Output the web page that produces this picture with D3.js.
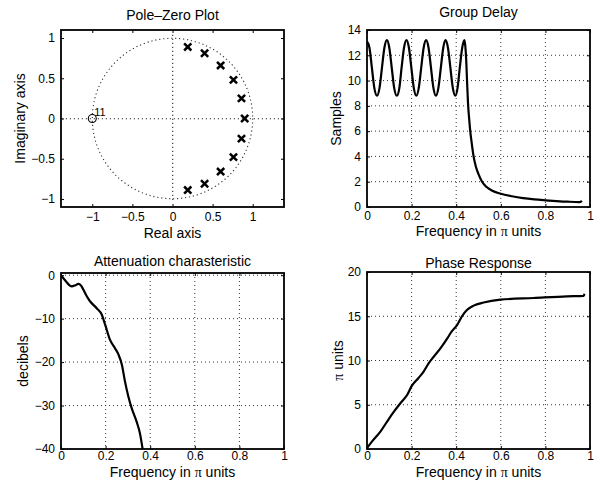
<!DOCTYPE html>
<html>
<head>
<meta charset="utf-8">
<script src="https://cdn.jsdelivr.net/npm/d3@7"></script>
<style>
  body { margin: 0; background: #fff; }
  svg text { font-family: "Liberation Sans", Arial, Helvetica, sans-serif; fill: #000; }
  .grid { stroke: #222; stroke-width: 0.9; stroke-dasharray: 1 3; fill: none; }
  .pzline { stroke: #333; stroke-width: 1.1; stroke-dasharray: 1.2 2.8; fill: none; }
  .curve { fill: none; stroke: #000; stroke-width: 2.2; stroke-linejoin: round; }
</style>
</head>
<body>
<svg id="fig" width="594" height="482"></svg>
<script>
// ---- pole-zero plot ----
const poleRe = [0.19, 0.40, 0.60, 0.76, 0.86, 0.90, 0.86, 0.76, 0.60, 0.40, 0.19];
const poleIm = [0.89, 0.81, 0.66, 0.48, 0.25, 0, -0.25, -0.48, -0.66, -0.81, -0.89];
const zeroRe = [-1];
const zeroIm = [0];
const zeroCount = ['11'];
const pzTicks = [-1, -0.5, 0, 0.5, 1];

// ---- group delay ----
const gdFreq = [0, 0.011, 0.022, 0.033, 0.045, 0.056, 0.067, 0.078, 0.0895, 0.1, 0.111, 0.122,
  0.134, 0.145, 0.155, 0.166, 0.177, 0.188, 0.199, 0.21, 0.221, 0.232, 0.243, 0.254, 0.265,
  0.276, 0.287, 0.298, 0.309, 0.32, 0.331, 0.342, 0.352, 0.363, 0.374, 0.385, 0.396, 0.406,
  0.416, 0.427, 0.437, 0.441, 0.445, 0.449, 0.453, 0.458, 0.463, 0.47, 0.478, 0.488, 0.5,
  0.516, 0.535, 0.56, 0.6, 0.65, 0.7, 0.75, 0.8, 0.85, 0.9, 0.95, 0.958, 0.963];
const gdSamples = [13.1, 12.6, 11.0, 9.4, 8.8, 9.4, 11.0, 12.6, 13.2, 12.6, 11.0, 9.4,
  8.8, 9.4, 11.0, 12.6, 13.2, 12.6, 11.0, 9.4, 8.8, 9.4, 11.0, 12.6, 13.2,
  12.6, 11.0, 9.4, 8.8, 9.4, 11.0, 12.6, 13.2, 12.6, 11.0, 9.4, 8.8, 9.4,
  11.0, 12.6, 13.2, 12.7, 11.6, 9.8, 8.2, 7.0, 6.0, 5.0, 4.0, 3.2, 2.6,
  2.0, 1.6, 1.3, 1.05, 0.85, 0.7, 0.6, 0.53, 0.47, 0.42, 0.39, 0.4, 0.5];
const gdTicksX = [0, 0.2, 0.4, 0.6, 0.8, 1];
const gdTicksY = [0, 2, 4, 6, 8, 10, 12, 14];

// ---- attenuation ----
const attFreq = [0, 0.02, 0.048, 0.065, 0.078, 0.09, 0.1, 0.115, 0.13, 0.16, 0.183, 0.198,
  0.22, 0.242, 0.258, 0.273, 0.287, 0.302, 0.317, 0.339, 0.354, 0.366];
const attDb = [0, -1.3, -2.6, -2.3, -2.0, -2.4, -3.3, -4.8, -6.0, -7.6, -9.1, -11.4,
  -14.9, -16.8, -18.3, -20.6, -24.5, -27.9, -30.6, -33.7, -36.4, -40];
const attTicksY = [-40, -30, -20, -10, 0];

// ---- phase ----
const phFreq = [0, 0.022, 0.06, 0.09, 0.12, 0.157, 0.18, 0.2, 0.23, 0.254, 0.277, 0.3,
  0.33, 0.36, 0.38, 0.404, 0.426, 0.448, 0.478, 0.523, 0.598, 0.747, 0.897, 0.972, 0.975];
const phPi = [0.1, 0.83, 1.96, 3.1, 4.2, 5.4, 6.1, 7.1, 8.0, 8.75, 9.7, 10.45,
  11.4, 12.5, 13.3, 14.0, 15.0, 15.7, 16.2, 16.55, 16.87, 17.06, 17.25, 17.3, 17.55];
const phTicksY = [0, 5, 10, 15, 20];

const svg = d3.select('#fig');
const fmt = d3.format('');
const serif = 'font-family:"Liberation Serif","DejaVu Serif",serif';

function makeAxes(cfg) {
  const x = d3.scaleLinear().domain(cfg.xDomain).range([cfg.left, cfg.right]);
  const y = d3.scaleLinear().domain(cfg.yDomain).range([cfg.bottom, cfg.top]);
  const g = svg.append('g');

  if (cfg.grid) {
    g.append('g').selectAll('line')
        .data(cfg.xTicks.filter((v) => x(v) > cfg.left + 1 && x(v) < cfg.right - 1))
      .join('line')
        .attr('class', 'grid')
        .attr('x1', (d) => x(d)).attr('x2', (d) => x(d))
        .attr('y1', cfg.top).attr('y2', cfg.bottom);
    g.append('g').selectAll('line')
        .data(cfg.yTicks.filter((v) => y(v) > cfg.top + 1 && y(v) < cfg.bottom - 1))
      .join('line')
        .attr('class', 'grid')
        .attr('x1', cfg.left).attr('x2', cfg.right)
        .attr('y1', (d) => y(d)).attr('y2', (d) => y(d));
  }

  const tidy = (sel) => {
    sel.select('.domain').remove();
    sel.attr('font-family', null).attr('font-size', 12);
    sel.selectAll('line').attr('stroke', '#000');
  };

  g.append('g')
      .attr('transform', `translate(0,${cfg.bottom})`)
      .call(d3.axisBottom(x).tickValues(cfg.xTicks).tickSize(-3).tickPadding(cfg.xPad).tickFormat(fmt))
      .call(tidy);
  g.append('g')
      .attr('transform', `translate(0,${cfg.top})`)
      .call(d3.axisTop(x).tickValues(cfg.xTicks).tickSize(-3).tickFormat(''))
      .call(tidy);
  g.append('g')
      .attr('transform', `translate(${cfg.left},0)`)
      .call(d3.axisLeft(y).tickValues(cfg.yTicks).tickSize(-3).tickPadding(6).tickFormat(fmt))
      .call(tidy);
  g.append('g')
      .attr('transform', `translate(${cfg.right},0)`)
      .call(d3.axisRight(y).tickValues(cfg.yTicks).tickSize(-3).tickFormat(''))
      .call(tidy);

  const clipId = `clip-${cfg.name}`;
  svg.append('clipPath').attr('id', clipId)
    .append('rect')
      .attr('x', cfg.left).attr('y', cfg.top)
      .attr('width', cfg.right - cfg.left).attr('height', cfg.bottom - cfg.top);
  const plot = g.append('g').attr('clip-path', `url(#${clipId})`);

  // title
  g.append('text')
      .attr('x', (cfg.left + cfg.right) / 2)
      .attr('y', cfg.titleY)
      .attr('text-anchor', 'middle')
      .attr('font-size', 14)
      .text(cfg.title);

  // x label
  const xl = g.append('text')
      .attr('x', (cfg.left + cfg.right) / 2)
      .attr('y', cfg.bottom + cfg.xLabelOffset)
      .attr('text-anchor', 'middle')
      .attr('font-size', 14);
  if (cfg.xLabel === 'freq') {
    xl.append('tspan').text('Frequency in ');
    xl.append('tspan').attr('style', serif).text('π');
    xl.append('tspan').text(' units');
  } else {
    xl.text(cfg.xLabel);
  }

  // y label
  const yl = g.append('text')
      .attr('transform', `translate(${cfg.left - cfg.yLabelOffset},${(cfg.top + cfg.bottom) / 2}) rotate(-90)`)
      .attr('text-anchor', 'middle')
      .attr('font-size', 14);
  if (cfg.yLabel === 'pi') {
    yl.append('tspan').attr('style', serif).text('π');
    yl.append('tspan').text(' units');
  } else {
    yl.text(cfg.yLabel);
  }

  g.append('rect')
      .attr('class', 'box')
      .attr('x', cfg.left).attr('y', cfg.top)
      .attr('width', cfg.right - cfg.left).attr('height', cfg.bottom - cfg.top)
      .attr('fill', 'none').attr('stroke', '#000').attr('stroke-width', 1.8);

  return { x, y, g, plot };
}

// ---------- Pole-Zero ----------
const pz = makeAxes({
  name: 'pz', left: 61, right: 284, top: 30, bottom: 207,
  xDomain: [-1.39, 1.39], yDomain: [-1.1, 1.1],
  xTicks: pzTicks, yTicks: pzTicks, grid: false, xPad: 5,
  title: 'Pole\u2013Zero Plot', titleY: 20,
  xLabel: 'Real axis', xLabelOffset: 31,
  yLabel: 'Imaginary axis', yLabelOffset: 36,
});

const guides = pz.g.insert('g', '.box');
guides.append('circle')
    .attr('class', 'pzline')
    .attr('cx', pz.x(0)).attr('cy', pz.y(0))
    .attr('r', pz.x(1) - pz.x(0));
// real and imaginary axis lines
guides.append('line')
    .attr('class', 'pzline')
    .attr('x1', pz.x(-1.38)).attr('x2', pz.x(1.38))
    .attr('y1', pz.y(0) + 0.2).attr('y2', pz.y(0) + 0.2);
guides.append('line')
    .attr('class', 'pzline')
    .attr('x1', pz.x(0) + 0.2).attr('x2', pz.x(0) + 0.2)
    .attr('y1', pz.y(1.04)).attr('y2', pz.y(-1.04));

const poles = poleRe.map((re, i) => ({ re, im: poleIm[i] }));
pz.plot.selectAll('.pole')
    .data(poles)
  .join('path')
    .attr('class', 'pole')
    .attr('transform', (d) => `translate(${pz.x(d.re)},${pz.y(d.im)})`)
    .attr('d', 'M-3.6,-3.6L3.6,3.6M-3.6,3.6L3.6,-3.6')
    .attr('stroke', '#000').attr('stroke-width', 2.5).attr('fill', 'none');

const zeros = zeroRe.map((re, i) => ({ re, im: zeroIm[i], n: zeroCount[i] }));
pz.plot.selectAll('.zero')
    .data(zeros)
  .join('circle')
    .attr('class', 'zero')
    .attr('cx', (d) => pz.x(d.re)).attr('cy', (d) => pz.y(d.im))
    .attr('r', 4)
    .attr('fill', 'none').attr('stroke', '#000').attr('stroke-width', 1.1);
pz.plot.selectAll('.zlabel')
    .data(zeros)
  .join('text')
    .attr('class', 'zlabel')
    .attr('x', (d) => pz.x(d.re) + 2).attr('y', (d) => pz.y(d.im) - 3)
    .attr('font-size', 11)
    .text((d) => d.n);

// ---------- Group Delay ----------
const gd = makeAxes({
  name: 'gd', left: 367, right: 590, top: 30, bottom: 207,
  xDomain: [0, 1], yDomain: [0, 14],
  xTicks: gdTicksX, yTicks: gdTicksY, grid: true, xPad: 4,
  title: 'Group Delay', titleY: 17,
  xLabel: 'freq', xLabelOffset: 29,
  yLabel: 'Samples', yLabelOffset: 26,
});
gd.plot.append('path')
    .datum(gdFreq.map((f, i) => [f, gdSamples[i]]))
    .attr('class', 'curve')
    .attr('d', d3.line().x((d) => gd.x(d[0])).y((d) => gd.y(d[1])).curve(d3.curveMonotoneX));

// ---------- Attenuation ----------
const at = makeAxes({
  name: 'at', left: 61, right: 284, top: 273, bottom: 449,
  xDomain: [0, 1], yDomain: [-40, 0.5],
  xTicks: gdTicksX, yTicks: attTicksY, grid: true, xPad: 2,
  title: 'Attenuation charasteristic', titleY: 266,
  xLabel: 'freq', xLabelOffset: 28,
  yLabel: 'decibels', yLabelOffset: 33,
});
at.plot.append('path')
    .datum(attFreq.map((f, i) => [f, attDb[i]]))
    .attr('class', 'curve')
    .attr('d', d3.line().x((d) => at.x(d[0])).y((d) => at.y(d[1])).curve(d3.curveMonotoneX));

// ---------- Phase ----------
const ph = makeAxes({
  name: 'ph', left: 367, right: 590, top: 272, bottom: 449,
  xDomain: [0, 1], yDomain: [0, 20],
  xTicks: gdTicksX, yTicks: phTicksY, grid: true, xPad: 2,
  title: 'Phase Response', titleY: 268,
  xLabel: 'freq', xLabelOffset: 28,
  yLabel: 'pi', yLabelOffset: 24,
});
ph.plot.append('path')
    .datum(phFreq.map((f, i) => [f, phPi[i]]))
    .attr('class', 'curve')
    .attr('d', d3.line().x((d) => ph.x(d[0])).y((d) => ph.y(d[1])).curve(d3.curveMonotoneX));
</script>
</body>
</html>
